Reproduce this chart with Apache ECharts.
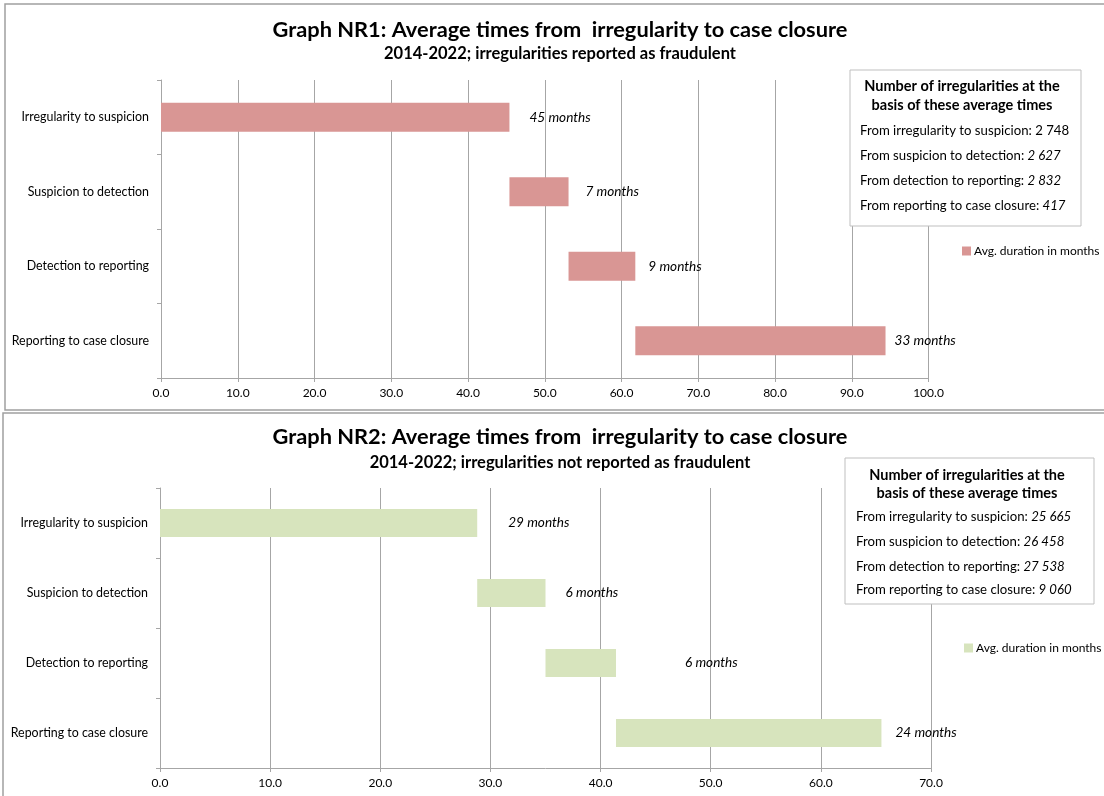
<!DOCTYPE html>
<html>
<head>
<meta charset="utf-8">
<script src="https://cdn.jsdelivr.net/npm/echarts@6/dist/echarts.min.js"></script>
<style>
html,body{margin:0;padding:0;background:#fff;}
#main{width:1104px;height:796px;}
</style>
</head>
<body>
<div id="main"></div>
<script>
// ---------- data ----------
const categories = ['Irregularity to suspicion', 'Suspicion to detection', 'Detection to reporting', 'Reporting to case closure'];
const durationsNR1 = [45.4, 7.7, 8.7, 32.6];
const durationsNR2 = [28.8, 6.2, 6.4, 24.1];
const labelsNR1 = ['45 months', '7 months', '9 months', '33 months'];
const labelsNR2 = ['29 months', '6 months', '6 months', '24 months'];
const xTicksNR1 = { min: 0, max: 100, interval: 10 };
const xTicksNR2 = { min: 0, max: 70, interval: 10 };
const boxTitle = ['Number of irregularities at the', 'basis of these average times'];
const stepNames = ['From irregularity to suspicion: ', 'From suspicion to detection: ', 'From detection to reporting: ', 'From reporting to case closure: '];
const countsNR1 = ['2 748', '2 627', '2 832', '417'];
const countsNR2 = ['25 665', '26 458', '27 538', '9 060'];
const seriesName = 'Avg. duration in months';
const titleNR1 = 'Graph NR1: Average times from  irregularity to case closure';
const subNR1 = '2014-2022; irregularities reported as fraudulent';
const titleNR2 = 'Graph NR2: Average times from  irregularity to case closure';
const subNR2 = '2014-2022; irregularities not reported as fraudulent';

// ---------- styles ----------
const FONT = 'Lato';
const colNR1 = '#D99694';
const colNR2 = '#D7E4BD';
const gridCol = '#a6a6a6';
const labelGapNR1 = [20, 17, 13, 9];
const labelGapNR2 = [31, 20, 69, 14];
const italicNR1 = [false, true, true, true];
const italicNR2 = [true, true, true, true];

function bases(d) {
  const out = []; let acc = 0;
  d.forEach(v => { out.push(acc); acc += v; });
  return out;
}

function xAxis(gi, t) {
  return {
    type: 'value', gridIndex: gi, min: t.min, max: t.max, interval: t.interval,
    axisLine: { show: true, lineStyle: { color: gridCol } },
    axisTick: { show: true, length: 4, lineStyle: { color: gridCol } },
    axisLabel: { color: '#000', fontFamily: FONT, fontSize: 12, margin: 9, formatter: v => v.toFixed(1) },
    splitLine: { show: true, lineStyle: { color: gridCol, width: 1 } }
  };
}
function yAxis(gi) {
  return {
    type: 'category', gridIndex: gi, data: categories, inverse: true,
    axisLine: { show: true, lineStyle: { color: gridCol } },
    axisTick: { show: true, length: 4, alignWithLabel: false, lineStyle: { color: gridCol } },
    axisLabel: { color: '#000', fontFamily: FONT, fontSize: 12.4, margin: 12 },
    splitLine: { show: false }
  };
}
function barSeries(name, gi, d, labels, gaps, col, bw) {
  return [
    { type: 'bar', name: 'base' + gi, stack: 's' + gi, xAxisIndex: gi, yAxisIndex: gi, barWidth: bw,
      itemStyle: { color: 'transparent' }, silent: true, data: bases(d) },
    { type: 'bar', name: name, stack: 's' + gi, xAxisIndex: gi, yAxisIndex: gi, barWidth: bw,
      itemStyle: { color: col },
      label: { show: true, position: 'right', fontFamily: FONT, fontSize: 13.6, fontStyle: 'italic', color: '#000',
        formatter: p => labels[p.dataIndex] },
      data: d.map((v, i) => ({ value: v, label: { distance: gaps[i] } })) }
  ];
}

function boxGraphics(x, y, w, h, counts, italics, cx, lx, ty, ly) {
  const els = [{
    type: 'rect', shape: { x: x, y: y, width: w, height: h }, z: 100,
    style: { fill: '#fff', stroke: '#bfbfbf', lineWidth: 1 }
  }];
  boxTitle.forEach((t, i) => els.push({
    type: 'text', z: 101, x: cx, y: ty[i],
    style: { text: t, fontFamily: FONT, fontSize: 14.5, fontWeight: 'bold', fill: '#000', align: 'center', verticalAlign: 'middle' }
  }));
  stepNames.forEach((s, i) => els.push({
    type: 'text', z: 101, x: lx, y: ly[i],
    style: {
      text: '{n|' + s + '}{v|' + counts[i] + '}', align: 'left', verticalAlign: 'middle',
      rich: {
        n: { fontFamily: FONT, fontSize: 13.2, fill: '#000' },
        v: { fontFamily: FONT, fontSize: 13.2, fill: '#000', fontStyle: italics[i] ? 'italic' : 'normal' }
      }
    }
  }));
  return els;
}

const chart = echarts.init(document.getElementById('main'), null, { renderer: 'canvas' });
const graphics = [
  { type: 'rect', shape: { x: 5, y: 4, width: 1110, height: 406 }, style: { fill: 'none', stroke: '#a0a0a0', lineWidth: 1.5 }, z: -1 },
  { type: 'rect', shape: { x: 3, y: 413, width: 1110, height: 400 }, style: { fill: 'none', stroke: '#a0a0a0', lineWidth: 1.5 }, z: -1 },
  { type: 'text', x: 560, y: 30, style: { text: titleNR1, fontFamily: FONT, fontSize: 21.8, fontWeight: 'bold', fill: '#000', align: 'center', verticalAlign: 'middle' } },
  { type: 'text', x: 560, y: 54, style: { text: subNR1, fontFamily: FONT, fontSize: 16.5, fontWeight: 'bold', fill: '#000', align: 'center', verticalAlign: 'middle' } },
  { type: 'text', x: 560, y: 437, style: { text: titleNR2, fontFamily: FONT, fontSize: 21.8, fontWeight: 'bold', fill: '#000', align: 'center', verticalAlign: 'middle' } },
  { type: 'text', x: 560, y: 463, style: { text: subNR2, fontFamily: FONT, fontSize: 16.5, fontWeight: 'bold', fill: '#000', align: 'center', verticalAlign: 'middle' } }
].concat(
  boxGraphics(850, 70, 231, 156, countsNR1, italicNR1, 962, 860, [86, 105], [131, 156, 181, 206]),
  boxGraphics(845, 458, 249, 146, countsNR2, italicNR2, 967, 856, [475, 493], [517, 542, 567, 590])
);

chart.setOption({
  animation: false,
  backgroundColor: '#fff',
  grid: [
    { left: 161, right: 175.5, top: 80, height: 298 },
    { left: 160, right: 173, top: 488, height: 280 }
  ],
  xAxis: [xAxis(0, xTicksNR1), xAxis(1, xTicksNR2)],
  yAxis: [yAxis(0), yAxis(1)],
  legend: [
    { data: ['NR1'], left: 962, top: 245, padding: 0, icon: 'rect', itemWidth: 9, itemHeight: 9, itemGap: 4,
      formatter: () => seriesName, textStyle: { fontFamily: FONT, fontSize: 12, color: '#000', padding: [0, 0, 0, -2] } },
    { data: ['NR2'], left: 964, top: 642, padding: 0, icon: 'rect', itemWidth: 9, itemHeight: 9, itemGap: 4,
      formatter: () => seriesName, textStyle: { fontFamily: FONT, fontSize: 12, color: '#000', padding: [0, 0, 0, -2] } }
  ],
  series: [].concat(
    barSeries('NR1', 0, durationsNR1, labelsNR1, labelGapNR1, colNR1, 29),
    barSeries('NR2', 1, durationsNR2, labelsNR2, labelGapNR2, colNR2, 28)
  ),
  graphic: graphics
});
</script>
</body>
</html>
